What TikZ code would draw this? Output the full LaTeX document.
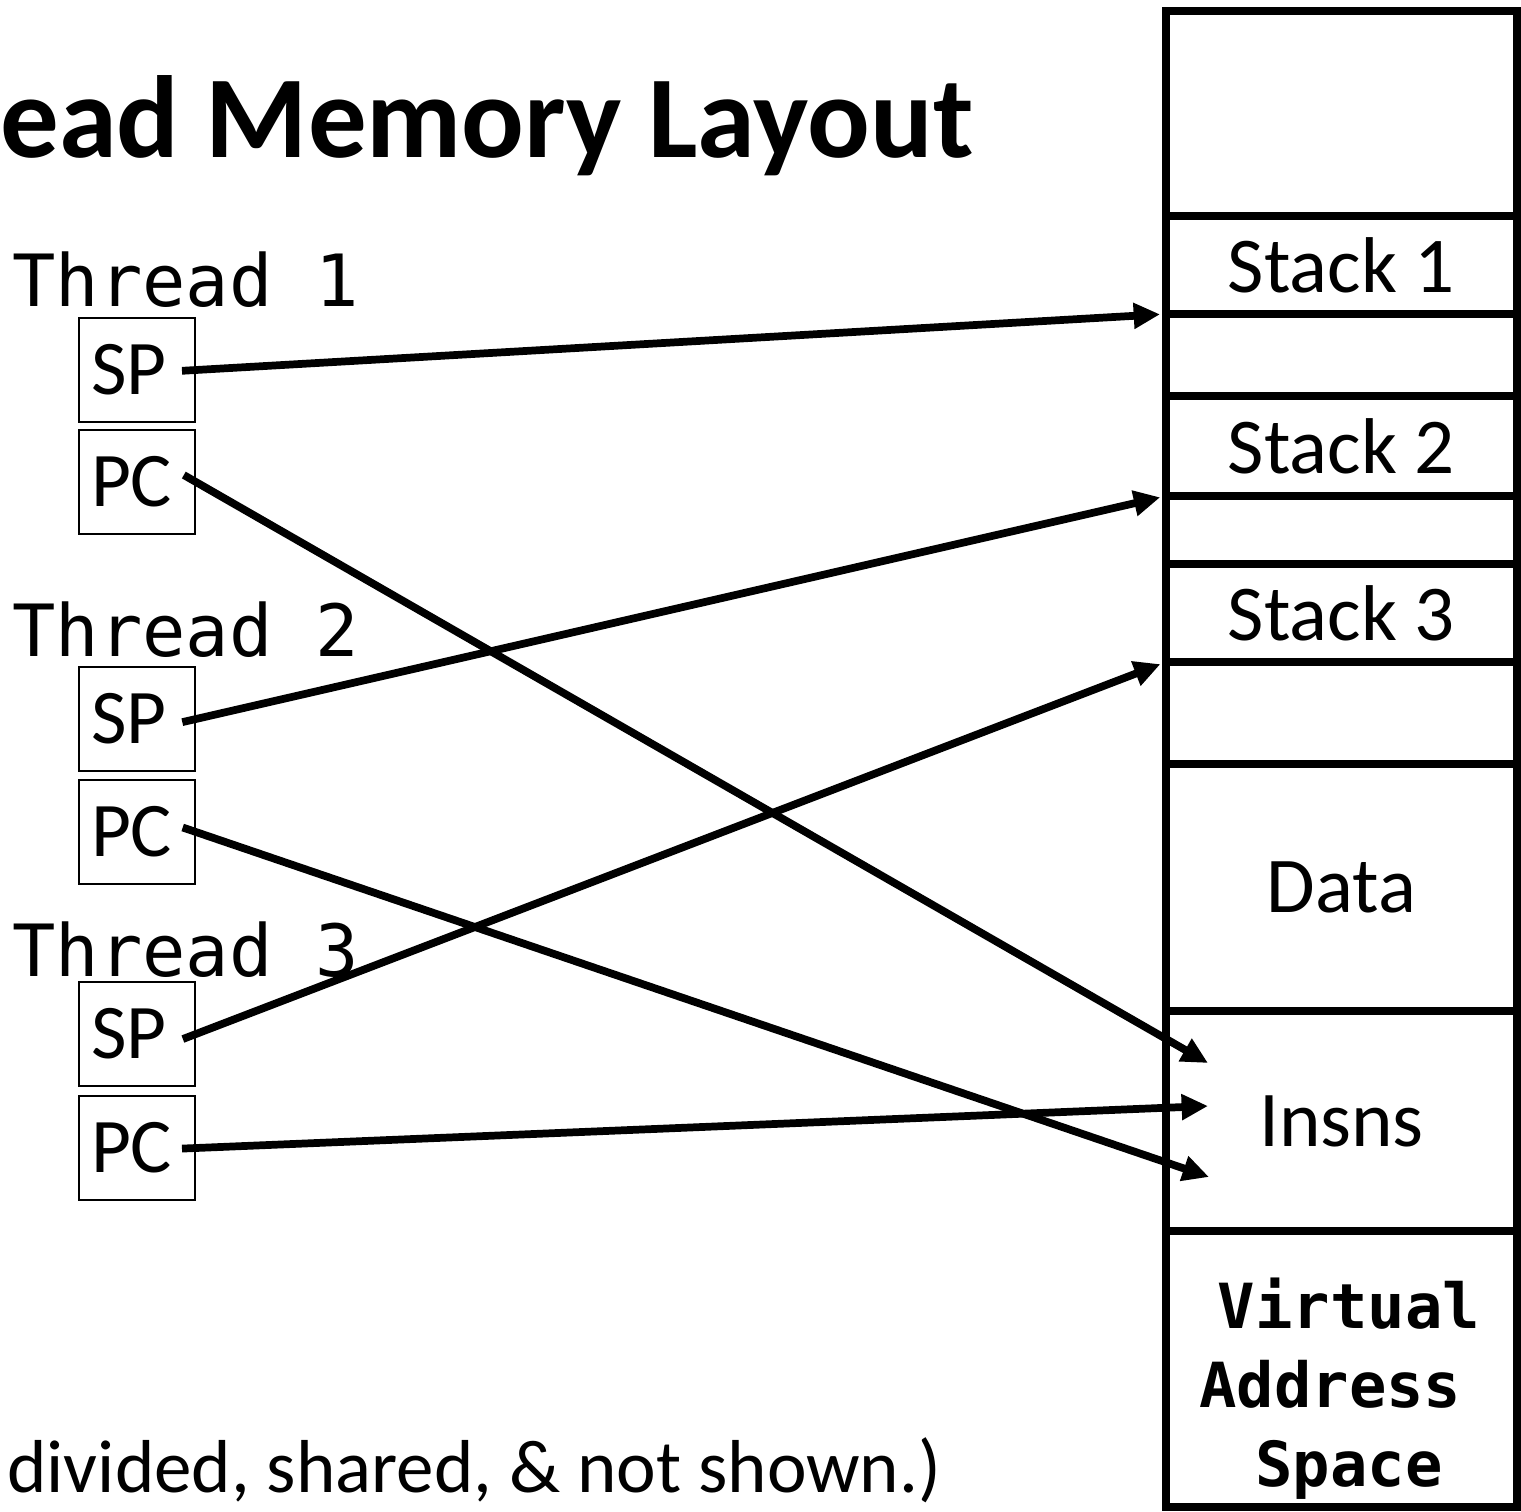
\documentclass[tikz,border=0pt]{standalone}
\usepackage{fontspec}
\setmainfont{Carlito}
\newfontfamily\monofont{DejaVu Sans Mono}
\usetikzlibrary{arrows.meta}

\tikzset{
  reg/.style={draw, line width=1.1pt, minimum width=2.32cm, minimum height=2.08cm,
    text width=1.84cm, inner xsep=0.24cm, inner ysep=0pt, align=left,
    font=\fontsize{44}{44}\selectfont},
  cell/.style={draw, line width=4.5pt, minimum width=7.02cm, inner sep=0pt,
    outer sep=0pt, anchor=north, font=\fontsize{45}{45}\selectfont},
  thread/.style={anchor=base west, inner sep=0pt, font=\monofont\fontsize{41}{41}\selectfont},
  ptr/.style={line width=4.4pt, -{Triangle[length=15pt,width=14pt]}, shorten <=-0.28cm}
}

\begin{document}
\begin{tikzpicture}[x=0.02cm,y=-0.02cm]
  \useasboundingbox (0,0) rectangle (1521,1511);
  % title and footnote, both cut off at the left
  \node[anchor=base west, inner sep=0pt, font=\bfseries\fontsize{66.5}{66.5}\selectfont]
    (title) at (0,157) {ead Memory Layout};
  \node[anchor=base west, inner sep=0pt, font=\fontsize{42.7}{42.7}\selectfont]
    (note) at (7,1492) {divided, shared, \& not shown.)};

  % threads with their registers
  \node[thread] (t1) at (12,306) {Thread 1};
  \node[reg] (sp1) at (137,370) {SP};
  \node[reg] (pc1) at (137,482) {PC};
  \node[thread] (t2) at (12,656) {Thread 2};
  \node[reg] (sp2) at (137,719) {SP};
  \node[reg] (pc2) at (137,832) {PC};
  \node[thread] (t3) at (12,976) {Thread 3};
  \node[reg] (sp3) at (137,1034) {SP};
  \node[reg] (pc3) at (137,1148) {PC};

  % address space column
  \node[cell, minimum height=4.10cm] (top) at (1341.5,11) {};
  \node[cell, minimum height=1.96cm] (stack1) at (1341.5,216) {Stack 1};
  \node[cell, minimum height=1.64cm] (gap1) at (1341.5,314) {};
  \node[cell, minimum height=2.00cm] (stack2) at (1341.5,396) {Stack 2};
  \node[cell, minimum height=1.36cm] (gap2) at (1341.5,496) {};
  \node[cell, minimum height=1.96cm] (stack3) at (1341.5,564) {Stack 3};
  \node[cell, minimum height=2.04cm] (gap3) at (1341.5,662) {};
  \node[cell, minimum height=4.94cm] (data) at (1341.5,764) {Data};
  \node[cell, minimum height=4.40cm] (insns) at (1341.5,1011) {Insns};
  \node[cell, minimum height=5.52cm] (vas) at (1341.5,1231) {};
  \node[align=center, inner sep=0pt, font=\monofont\bfseries\fontsize{35.4}{45}\selectfont]
    (vaslbl) at ([xshift=0.15cm,yshift=-0.40cm]vas.center)
    {Virtual\\Address\hphantom{x}\\Space};

  % pointers into the address space
  \coordinate (ins1) at (1208,1063);
  \coordinate (ins2) at (1208,1106);
  \coordinate (ins3) at (1209,1177);
  \draw[ptr, shorten >=0.12cm] (sp1.east) -- (stack1.south west);
  \draw[ptr, shorten >=0.12cm] (sp2.east) -- (stack2.south west);
  \draw[ptr, shorten >=0.12cm] (sp3.east) -- (stack3.south west);
  \draw[ptr] (pc1.east) -- (ins1);
  \draw[ptr] (pc2.east) -- (ins3);
  \draw[ptr] (pc3.east) -- (ins2);
\end{tikzpicture}
\end{document}
